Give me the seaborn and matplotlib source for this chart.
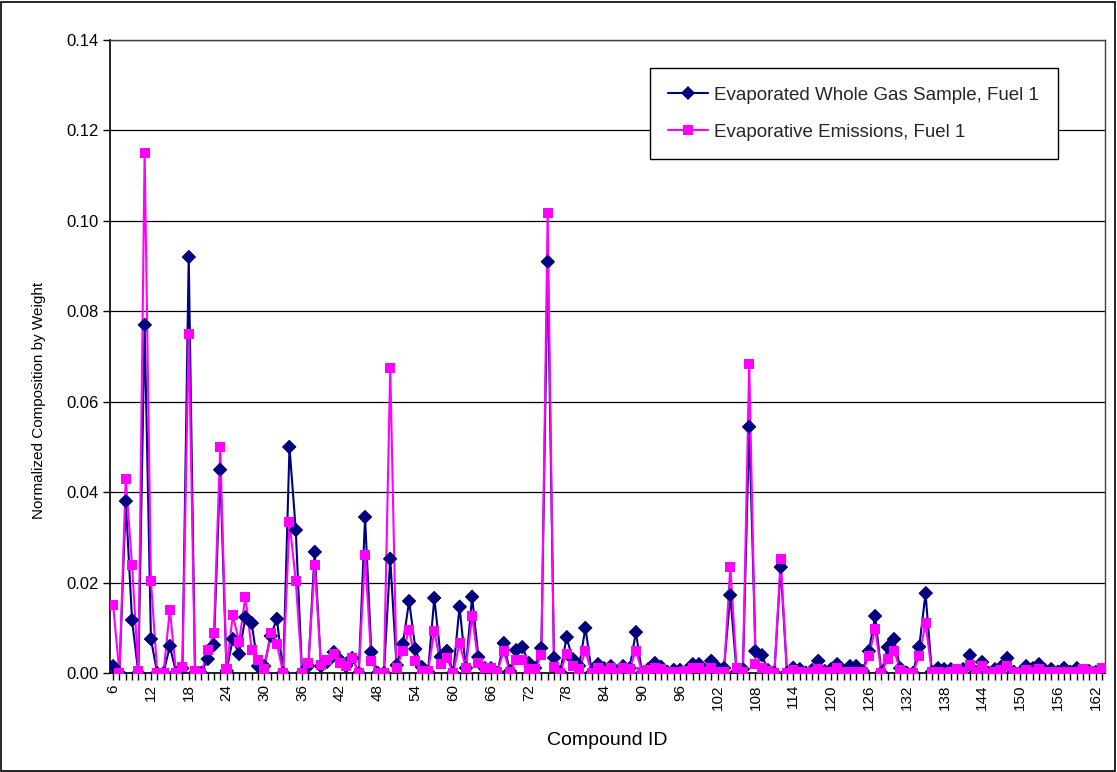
import numpy as np
import pandas as pd
import matplotlib
matplotlib.use("Agg")
import matplotlib.pyplot as plt
from matplotlib.patches import Rectangle
from matplotlib.ticker import MultipleLocator, FormatStrFormatter
import seaborn as sns

# Compound IDs on the x axis
compound_ids = list(range(6, 164))

# Normalized composition by weight, whole gas sample (Fuel 1)
whole_gas = [
    0.0015, 0, 0.038, 0.0117, 0, 0.077, 0.0075, 0, 0, 0.006,
    0, 0.001, 0.092, 0, 0, 0.0031, 0.0062, 0.045, 0.0005, 0.0075,
    0.0042, 0.0123, 0.011, 0.0015, 0.0015, 0.0082, 0.012, 0, 0.050, 0.0316,
    0, 0.0015, 0.0268, 0.0015, 0.0025, 0.0046, 0.0029, 0.0015, 0.0033, 0,
    0.0345, 0.0046, 0, 0, 0.0253, 0.0017, 0.0064, 0.0159, 0.0053, 0.0013,
    0.0003, 0.0166, 0.0036, 0.0049, 0, 0.0147, 0.0011, 0.0169, 0.0035, 0.001,
    0.001, 0, 0.0066, 0.0004, 0.005, 0.0057, 0.0022, 0.0011, 0.0055, 0.091,
    0.0034, 0.0002, 0.0079, 0.003, 0.0016, 0.0100, 0.0001, 0.0019, 0.001, 0.0015,
    0.0002, 0.0015, 0.001, 0.009, 0, 0.0008, 0.0022, 0.0014, 0.0003, 0.0007,
    0.0007, 0.0005, 0.0019, 0.0019, 0.0004, 0.0027, 0.0011, 0.0011, 0.0172, 0.0002,
    0.0008, 0.0545, 0.0048, 0.0039, 0.0006, 0.0001, 0.0234, 0.0001, 0.0012, 0.0008,
    0.0001, 0.0006, 0.0027, 0.0004, 0.0008, 0.0019, 0.0003, 0.0015, 0.0015, 0.0004,
    0.0048, 0.0126, 0.0001, 0.0057, 0.0075, 0.001, 0.0001, 0, 0.0058, 0.0176,
    0.0003, 0.001, 0.0008, 0.0008, 0, 0.0008, 0.0039, 0.0002, 0.0024, 0.0001,
    0.0008, 0.0014, 0.0033, 0.0003, 0.0001, 0.0015, 0.001, 0.0019, 0.0006, 0.0008,
    0.0003, 0.0011, 0.0003, 0.001, 0.0004, 0.0004, 0.0002, 0.0001,
]

# Normalized composition by weight, evaporative emissions (Fuel 1)
evap_emissions = [
    0.015, 0, 0.043, 0.0238, 0.0005, 0.115, 0.0204, 0, 0, 0.014,
    0, 0.0014, 0.075, 0.0005, 0, 0.005, 0.0089, 0.050, 0.0008, 0.0128,
    0.0069, 0.0169, 0.0051, 0.0029, 0.0008, 0.0089, 0.0064, 0, 0.0335, 0.0203,
    0, 0.0022, 0.0238, 0.0018, 0.0029, 0.0042, 0.0022, 0.0016, 0.0033, 0,
    0.026, 0.0026, 0, 0, 0.0675, 0.001, 0.0049, 0.0095, 0.0027, 0.0005,
    0.0004, 0.0093, 0.002, 0.0033, 0, 0.0066, 0.0011, 0.0126, 0.0022, 0.001,
    0.001, 0.0002, 0.0048, 0.0003, 0.0029, 0.0029, 0.0008, 0.0008, 0.004, 0.1018,
    0.0013, 0.0001, 0.0043, 0.0016, 0.0008, 0.0048, 0, 0.0012, 0.0005, 0.0011,
    0, 0.0011, 0.0008, 0.0049, 0.0002, 0.0006, 0.001, 0.0008, 0.0002, 0.0002,
    0.0003, 0.0004, 0.0012, 0.0012, 0.0003, 0.0012, 0.0003, 0.0003, 0.0235, 0.0012,
    0.0002, 0.0684, 0.002, 0.0012, 0.0005, 0.0001, 0.0253, 0, 0.0006, 0.0003,
    0, 0.0002, 0.0008, 0.0003, 0.0002, 0.0011, 0.0002, 0.0003, 0.0003, 0.0002,
    0.0038, 0.0097, 0.0001, 0.0031, 0.0049, 0.0006, 0, 0, 0.0038, 0.011,
    0.0002, 0.0002, 0, 0.0002, 0.0008, 0.0002, 0.0018, 0.0002, 0.0016, 0,
    0.0002, 0.0006, 0.0016, 0.0002, 0, 0.0006, 0.0003, 0.0008, 0.0003, 0.0002,
    0.0002, 0.0003, 0.0002, 0.0003, 0.0008, 0.0004, 0.0003, 0.001,
]

series_names = ["Evaporated Whole Gas Sample, Fuel 1", "Evaporative Emissions, Fuel 1"]
xtick_values = list(range(6, 163, 6))

df = pd.DataFrame({
    "Compound ID": compound_ids * 2,
    "Composition": whole_gas + evap_emissions,
    "Series": [series_names[0]] * len(compound_ids) + [series_names[1]] * len(compound_ids),
})

sns.set_theme(style="white")
plt.rcParams["font.family"] = ["Liberation Sans", "DejaVu Sans"]

fig = plt.figure(figsize=(11.17, 7.72), dpi=100)
ax = fig.add_axes([110 / 1117, 1 - 673 / 772, 995 / 1117, 633 / 772])

palette = {series_names[0]: "#000080", series_names[1]: "#FF00FF"}
markers = {series_names[0]: "D", series_names[1]: "s"}

# Connecting lines (with markers, for the legend entries)
sns.lineplot(
    data=df, x="Compound ID", y="Composition", hue="Series", style="Series",
    palette=palette, markers=markers, dashes=False, markersize=7,
    linewidth=1.5, markeredgewidth=0, ax=ax, legend=True,
)
for line in ax.get_lines():
    line.set_zorder(3 if line.get_color().lower() == "#ff00ff" else 2)

# Markers drawn above every connecting line
sns.scatterplot(
    data=df, x="Compound ID", y="Composition", hue="Series", style="Series",
    palette=palette, markers=markers, s=52, linewidth=0, ax=ax,
    legend=False, zorder=5,
)

ax.set_xlim(5.5, 163.5)
ax.set_ylim(0, 0.14)
ax.yaxis.set_major_locator(MultipleLocator(0.02))
ax.yaxis.set_major_formatter(FormatStrFormatter("%.2f"))
ax.xaxis.set_minor_locator(MultipleLocator(1))
ax.set_xticks(xtick_values)
ax.set_xticklabels([str(v) for v in xtick_values], rotation=90)

ax.grid(axis="y", color="black", linewidth=0.9)
ax.set_axisbelow(True)
ax.tick_params(axis="both", which="both", direction="out", color="black",
               length=5, width=1, labelcolor="black")
ax.tick_params(axis="x", which="both", bottom=True, labelsize=11, pad=3)
ax.tick_params(axis="y", left=True, labelsize=12, pad=3)

for side in ["left", "bottom"]:
    ax.spines[side].set_color("black")
    ax.spines[side].set_linewidth(1.2)
for side in ["top", "right"]:
    ax.spines[side].set_color("#404040")
    ax.spines[side].set_linewidth(1.0)

ax.set_xlabel("Compound ID", fontsize=14, color="black", labelpad=16)
ax.set_ylabel("Normalized Composition by Weight", fontsize=11, color="black")
ax.yaxis.set_label_coords(-0.064, (673 - 400) / 633)

leg = ax.legend(
    loc="upper right", bbox_to_anchor=(0.9528, 0.9558), borderaxespad=0,
    frameon=True, fancybox=False, edgecolor="black", framealpha=1,
    fontsize=13.5, borderpad=1.0, labelspacing=1.05, handlelength=2.1,
    handletextpad=0.35, title=None,
)
leg.get_frame().set_linewidth(1.0)

# Border around the whole chart
fig.patches.append(Rectangle((0.001, 0.001), 0.997, 0.997, transform=fig.transFigure,
                             fill=False, edgecolor="black", linewidth=1.2))

fig.savefig("out.png", dpi=100, facecolor="white")
